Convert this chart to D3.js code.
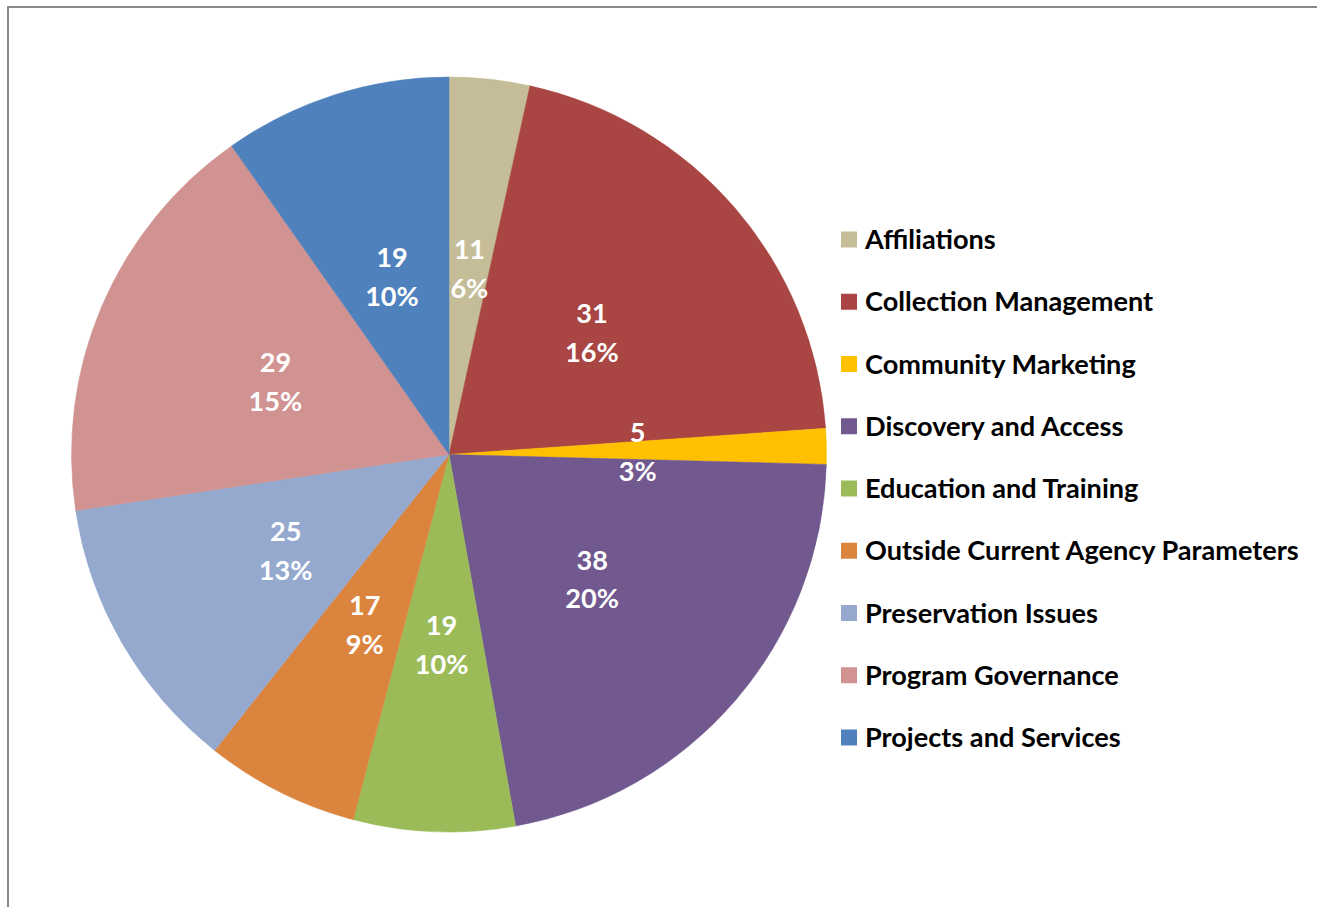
<!DOCTYPE html>
<html>
<head>
<meta charset="utf-8">
<script src="https://cdn.jsdelivr.net/npm/d3@7"></script>
<style>
  html, body { margin: 0; padding: 0; background: #fff; }
  svg { display: block; }
</style>
</head>
<body>
<div id="chart"></div>
<script>
// categories, in legend / clockwise order
const categories = [
    "Affiliations",
    "Collection Management",
    "Community Marketing",
    "Discovery and Access",
    "Education and Training",
    "Outside Current Agency Parameters",
    "Preservation Issues",
    "Program Governance",
    "Projects and Services"
];
// counts printed on the slices
const counts = [11, 31, 5, 38, 19, 17, 25, 29, 19];
// slice sizes as drawn in the picture (percent of the circle)
const sliceShares = [3.44, 20.46, 1.52, 21.76, 6.91, 6.58, 11.96, 17.61, 9.77];
const colors = ["#C4BD97", "#A94643", "#FFC000", "#71588F", "#9BBB59",
                "#DB843D", "#95A9CF", "#D19392", "#4F81BD"];

const svgWidth = 1317, svgHeight = 907;
const cx = 449, cy = 454.5, radius = 377.5;
const fontFamily = "Lato, 'Open Sans', sans-serif";

const total = d3.sum(counts);
const data = categories.map((name, i) => ({
    name: name,
    count: counts[i],
    share: sliceShares[i],
    pct: Math.round(counts[i] / total * 100) + "%",
    color: colors[i]
}));

const svg = d3.select("#chart").append("svg")
    .attr("width", svgWidth)
    .attr("height", svgHeight);

// frame (cropped at right and bottom)
svg.append("rect")
    .attr("x", 8).attr("y", 7)
    .attr("width", svgWidth + 20).attr("height", svgHeight + 20)
    .attr("fill", "none")
    .attr("stroke", "#8a8a8a")
    .attr("stroke-width", 2);

const pie = d3.pie()
    .sort(null)
    .value(d => d.share);
const arcs = pie(data);

const arc = d3.arc().innerRadius(0).outerRadius(radius);
const labelArc = d3.arc().innerRadius(radius * 0.5).outerRadius(radius * 0.5);

const g = svg.append("g")
    .attr("transform", "translate(" + cx + "," + cy + ")");

g.selectAll("path.slice")
    .data(arcs)
    .enter().append("path")
    .attr("class", "slice")
    .attr("d", arc)
    .attr("fill", d => d.data.color)
    .attr("stroke", d => d.data.color)
    .attr("stroke-width", 0.5);

const labels = g.selectAll("text.lbl")
    .data(arcs)
    .enter().append("text")
    .attr("class", "lbl")
    .attr("transform", d => "translate(" + labelArc.centroid(d) + ")")
    .attr("text-anchor", "middle")
    .attr("font-family", fontFamily)
    .attr("font-weight", "bold")
    .attr("font-size", 25)
    .attr("fill", "#fff");
labels.append("tspan")
    .attr("x", 0).attr("y", -17.5).attr("dy", "0.35em")
    .text(d => d.data.count);
labels.append("tspan")
    .attr("x", 0).attr("y", 21.5).attr("dy", "0.35em")
    .text(d => d.data.pct);

// legend
const legendY = d3.scalePoint()
    .domain(categories)
    .range([239.5, 737.5]);

const legend = svg.append("g");
const items = legend.selectAll("g")
    .data(data)
    .enter().append("g")
    .attr("transform", d => "translate(841," + legendY(d.name) + ")");
items.append("rect")
    .attr("x", 0).attr("y", -8)
    .attr("width", 16).attr("height", 16)
    .attr("fill", d => d.color);
const legendText = items.append("text")
    .attr("x", 24).attr("y", 0).attr("dy", "0.35em")
    .attr("font-family", fontFamily)
    .attr("font-weight", "bold")
    .attr("font-size", 25)
    .attr("fill", "#000")
    .text(d => d.name);

// fit the font so the longest legend entry spans like the original
let longest = 0;
legendText.each(function(){ longest = Math.max(longest, this.getComputedTextLength()); });
const fs = 25 * 434 / longest;
legendText.attr("font-size", fs);
labels.attr("font-size", fs);
</script>
</body>
</html>
